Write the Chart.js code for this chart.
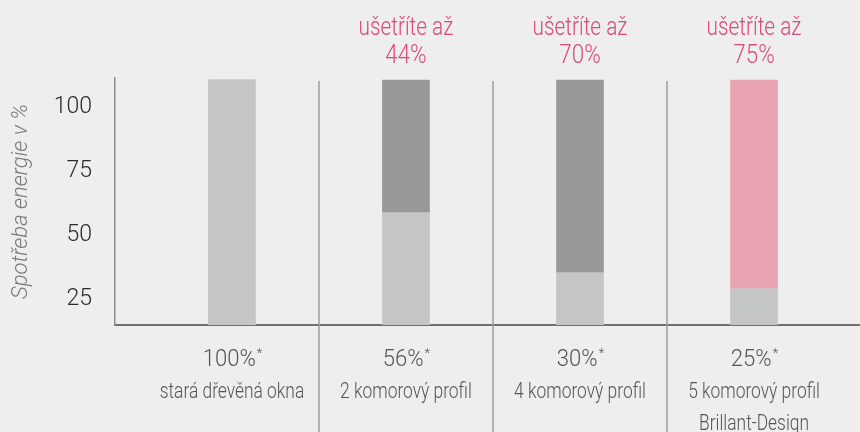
<!DOCTYPE html>
<html>
<head>
<meta charset="utf-8">
<script src="https://cdn.jsdelivr.net/npm/chart.js@4"></script>
<style>
html, body { margin: 0; padding: 0; background: #eeeeee; }
#wrap { width: 860px; height: 432px; }
</style>
</head>
<body>
<div id="wrap"><canvas id="chart" width="860" height="432"></canvas></div>
<script>
// data
var categories = [["stará dřevěná okna"], ["2 komorový profil"], ["4 komorový profil"], ["5 komorový profil", "Brillant-Design"]];
var consumptionLabels = ["100%", "56%", "30%", "25%"];
var savingLabels = ["", "44%", "70%", "75%"];
var baseValues = [110.6, 58.9, 35.5, 29.3];
var savingValues = [0, 51.7, 75.1, 81.3];
var savingColors = ["#979998", "#979998", "#979998", "#e7a3b0"];
var yTicks = [25, 50, 75, 100];

var FONT = "Roboto, 'Liberation Sans', sans-serif";
var PINK = "#da4a75";

// narrow text: the original uses a condensed face
function narrowText(ctx, text, x, y, font, sx, align) {
  ctx.save();
  ctx.font = font;
  ctx.textAlign = align || "center";
  ctx.translate(x, y);
  ctx.scale(sx, 1);
  ctx.fillText(text, 0, 0);
  ctx.restore();
}

var labelPlugin = {
  id: "labels",
  afterDraw: function(chart) {
    var ctx = chart.ctx, x = chart.scales.x;
    ctx.save();
    // column separators
    ctx.strokeStyle = "#9d9d9d";
    ctx.lineWidth = 1.5;
    for (var i = 0; i < categories.length - 1; i++) {
      var px = Math.round(x.getPixelForValue(i + 0.5));
      ctx.beginPath();
      ctx.moveTo(px, chart.chartArea.top + 3);
      ctx.lineTo(px, chart.height);
      ctx.stroke();
    }
    ctx.textBaseline = "alphabetic";
    for (i = 0; i < categories.length; i++) {
      var cx = x.getPixelForValue(i);
      // 100%* line
      ctx.fillStyle = "#555555";
      var pf = "300 24px " + FONT, af = "300 13px " + FONT;
      ctx.font = pf;
      var w = ctx.measureText(consumptionLabels[i]).width * 0.92;
      ctx.font = af;
      var aw = ctx.measureText("*").width;
      var left = cx - (w + aw) / 2;
      narrowText(ctx, consumptionLabels[i], left, 366, pf, 0.92, "left");
      narrowText(ctx, "*", left + w + 1, 357, af, 1, "left");
      // description
      for (var k = 0; k < categories[i].length; k++) {
        narrowText(ctx, categories[i][k], cx, 398 + 32 * k, "300 22px " + FONT, 0.79);
      }
      // saving labels on top
      if (savingLabels[i]) {
        ctx.fillStyle = PINK;
        narrowText(ctx, "ušetříte až", cx, 35, "300 26px " + FONT, 0.8);
        narrowText(ctx, savingLabels[i], cx, 63, "300 26px " + FONT, 0.86);
      }
    }
    ctx.restore();
  }
};

var chart = new Chart(document.getElementById("chart"), {
  type: "bar",
  data: {
    datasets: [
      {
        data: baseValues.map(function(v, i) { return { x: i, y: v }; }),
        backgroundColor: "#c4c5c6",
        barThickness: 47
      },
      {
        data: savingValues.map(function(v, i) { return { x: i, y: v }; }),
        backgroundColor: savingColors,
        barThickness: 47
      }
    ]
  },
  options: {
    responsive: false,
    animation: false,
    layout: { padding: { top: 78, bottom: 107, left: 0, right: 0 } },
    plugins: { legend: { display: false }, tooltip: { enabled: false } },
    scales: {
      x: {
        type: "linear",
        offset: false,
        stacked: true,
        min: -0.672,
        max: 3.609,
        grid: { display: false, drawTicks: false },
        ticks: { display: false },
        border: { display: true, color: "#707070", width: 2 },
        afterFit: function(s) { s.height = 0; }
      },
      y: {
        stacked: true,
        min: 15.1,
        max: 111.4,
        grid: { display: false, drawTicks: false },
        border: { display: true, color: "#8c8c8c", width: 1.5 },
        afterBuildTicks: function(s) { s.ticks = yTicks.map(function(v) { return { value: v }; }); },
        afterFit: function(s) { s.width = 115; },
        ticks: { padding: 23, color: "#2a2a2a", font: { family: FONT, size: 23, weight: "300" } },
        title: {
          display: true,
          text: "Spotřeba energie v %",
          color: "#7a7a7a",
          padding: { top: 8, bottom: 0 },
          font: { family: FONT, size: 22, style: "italic", weight: "300" }
        }
      }
    }
  },
  plugins: [labelPlugin]
});
</script>
</body>
</html>
